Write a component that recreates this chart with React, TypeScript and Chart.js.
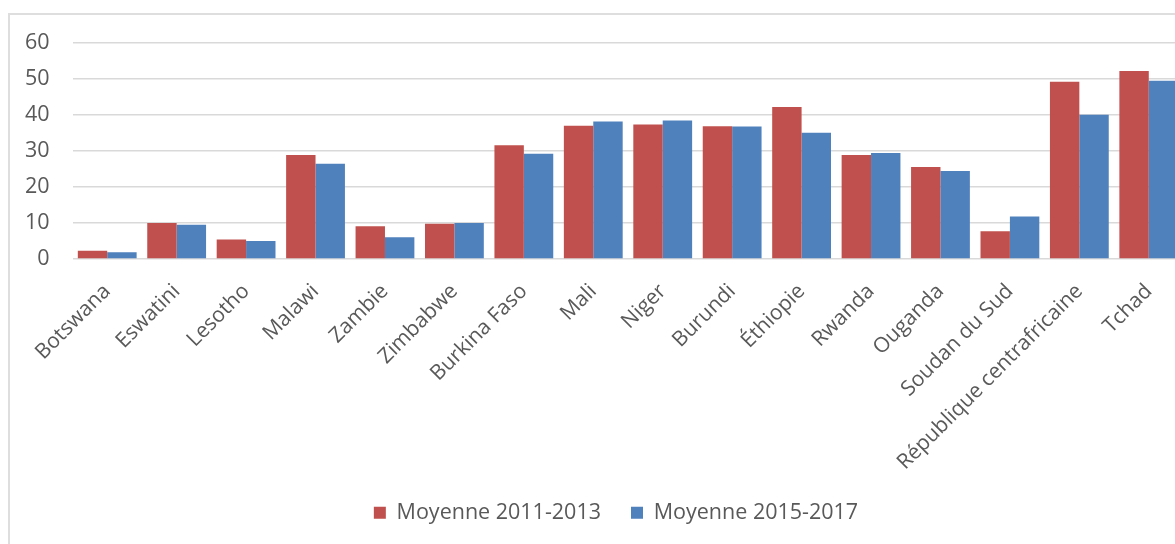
import React, { useEffect, useRef } from "react";
import { Chart, registerables } from "chart.js";

Chart.register(...registerables);

const categories = [
  "Botswana",
  "Eswatini",
  "Lesotho",
  "Malawi",
  "Zambie",
  "Zimbabwe",
  "Burkina Faso",
  "Mali",
  "Niger",
  "Burundi",
  "Éthiopie",
  "Rwanda",
  "Ouganda",
  "Soudan du Sud",
  "République centrafricaine",
  "Tchad",
];

const moyenne20112013 = [2.3, 10.0, 5.4, 28.8, 9.1, 9.8, 31.5, 36.9, 37.3, 36.8, 42.1, 28.8, 25.5, 7.7, 49.1, 52.1];
const moyenne20152017 = [1.9, 9.5, 5.0, 26.4, 6.0, 10.0, 29.2, 38.1, 38.4, 36.7, 35.0, 29.4, 24.4, 11.8, 40.0, 49.4];

const seriesLabels = ["Moyenne 2011-2013", "Moyenne 2015-2017"];
const yMin = 0;
const yMax = 60;
const yStep = 10;

const RED = "#C0504D";
const BLUE = "#4F81BD";
const TEXT = "#595959";
const FONT = "'Open Sans', sans-serif";

export default function App() {
  const ref = useRef<HTMLCanvasElement>(null);

  useEffect(() => {
    if (!ref.current) return;
    const chart = new Chart(ref.current, {
      type: "bar",
      data: {
        labels: categories,
        datasets: [
          {
            label: seriesLabels[0],
            data: moyenne20112013,
            backgroundColor: RED,
            borderWidth: 0,
            categoryPercentage: 0.847,
            barPercentage: 1,
          },
          {
            label: seriesLabels[1],
            data: moyenne20152017,
            backgroundColor: BLUE,
            borderWidth: 0,
            categoryPercentage: 0.847,
            barPercentage: 1,
          },
        ],
      },
      options: {
        responsive: false,
        animation: false,
        events: [],
        layout: { padding: { left: 0, right: 18, top: 27.5, bottom: 41.5 } },
        plugins: {
          tooltip: { enabled: false },
          legend: {
            position: "bottom",
            labels: {
              boxWidth: 12,
              boxHeight: 12,
              padding: 30,
              color: TEXT,
              font: { family: FONT, size: 21.5 },
            },
          },
        },
        scales: {
          x: {
            grid: { display: false, drawTicks: false },
            border: { display: false },
            ticks: {
              color: TEXT,
              font: { family: FONT, size: 21 },
              maxRotation: 45,
              minRotation: 45,
              autoSkip: false,
              padding: 20,
            },
            afterFit: (scale: any) => {
              scale.height = 213;
            },
          },
          y: {
            min: yMin,
            max: yMax,
            grid: {
              color: "#d9d9d9",
              lineWidth: 1.5,
              drawTicks: true,
              tickLength: 23,
              tickColor: "rgba(0,0,0,0)",
            },
            border: { display: false },
            ticks: {
              stepSize: yStep,
              color: TEXT,
              font: { family: FONT, size: 21.5 },
              padding: 0,
            },
            afterFit: (scale: any) => {
              scale.width = 62.5;
            },
          },
          yRightSpace: {
            type: "linear",
            position: "right",
            display: true,
            min: 0,
            max: 1,
            grid: { display: false, drawTicks: false },
            border: { display: false },
            ticks: { display: false },
            afterFit: (scale: any) => {
              scale.width = 38.5;
            },
          },
        },
      },
    });
    return () => chart.destroy();
  }, []);

  return (
    <div
      style={{
        position: "fixed",
        left: 0,
        top: 0,
        width: 1175,
        height: 544,
        overflow: "hidden",
        background: "#ffffff",
      }}
    >
      <div
        style={{
          position: "absolute",
          left: 8,
          top: 13,
          width: 1250,
          height: 600,
          border: "2px solid #dedede",
          background: "#ffffff",
        }}
      >
        <canvas ref={ref} width={1230} height={560} style={{ display: "block", width: 1230, height: 560 }} />
      </div>
    </div>
  );
}
